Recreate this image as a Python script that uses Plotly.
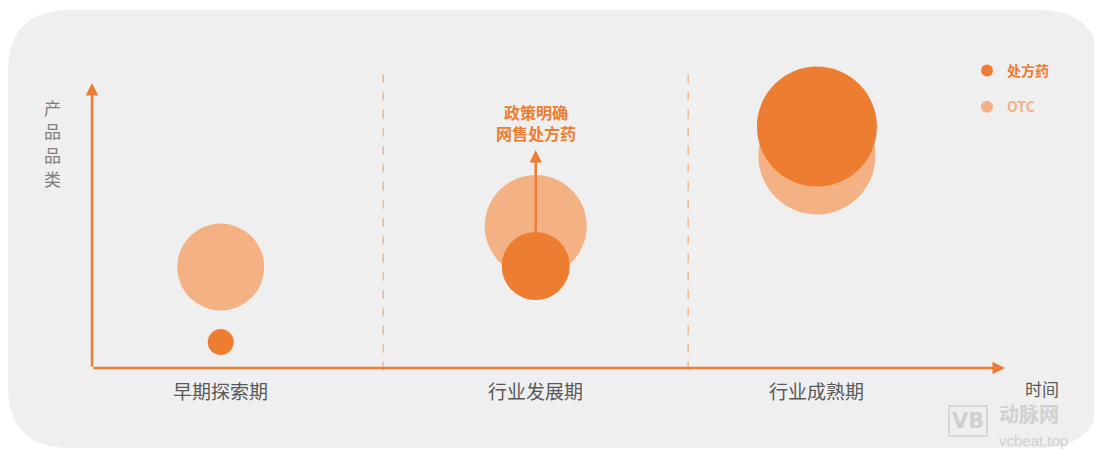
import plotly.graph_objects as go

# ---- data ----
stages = ["早期探索期", "行业发展期", "行业成熟期"]
stage_x = [14.1, 48.6, 79.4]          # time position of each stage
divider_x = [31.9, 65.3]              # boundaries between stages
rx_y = [9.1, 35.8, 84.7]              # 处方药 product-category level
otc_y = [35.4, 49.8, 74.4]            # OTC product-category level
rx_scale = [26, 68, 120]              # 处方药 bubble scale
otc_scale = [87, 102, 117]            # OTC bubble scale
y_label_chars = ["产", "品", "品", "类"]
note_lines = ["政策明确", "网售处方药"]

RX = "#ED7D31"
OTC = "#F4B183"
GRAY = "#595959"
FONT = "Noto Sans CJK SC"
OFF = 8                      # page body margin
W, H = 1102 - OFF, 450 - OFF
X0, Y0 = 92 - OFF, 368 - OFF  # axis origin inside the figure, px
SX, SY = 9.13, 2.85           # px per data unit

fig = go.Figure()

fig.add_trace(go.Scatter(
    x=stage_x, y=otc_y, mode="markers",
    name=f"<b><span style='color:{OTC}'>OTC</span></b>",
    marker=dict(size=otc_scale, sizemode="diameter", sizeref=1, color=OTC, opacity=1, line=dict(width=0)),
    legendgroup="b", legendrank=2, hoverinfo="skip", cliponaxis=False,
))
fig.add_trace(go.Scatter(
    x=stage_x, y=rx_y, mode="markers",
    name=f"<b><span style='color:{RX}'>处方药</span></b>",
    marker=dict(size=rx_scale, sizemode="diameter", sizeref=1, color=RX, opacity=1, line=dict(width=0)),
    legendgroup="a", legendrank=1, hoverinfo="skip", cliponaxis=False,
))

def px(v):  # screen px -> paper fraction (x)
    return (v - OFF) / W

def py(v):  # screen px -> paper fraction (y)
    return 1 - (v - OFF) / H

def rr_path(x0, y0, x1, y1, r):
    return (f"M {px(x0+r)},{py(y0)} L {px(x1-r)},{py(y0)} Q {px(x1)},{py(y0)} {px(x1)},{py(y0+r)} "
            f"L {px(x1)},{py(y1-r)} Q {px(x1)},{py(y1)} {px(x1-r)},{py(y1)} "
            f"L {px(x0+r)},{py(y1)} Q {px(x0)},{py(y1)} {px(x0)},{py(y1-r)} "
            f"L {px(x0)},{py(y0+r)} Q {px(x0)},{py(y0)} {px(x0+r)},{py(y0)} Z")

shapes = [dict(type="path", xref="paper", yref="paper", path=rr_path(8, 10, 1101, 448, 62),
               fillcolor="#EFEFEF", line=dict(width=0), layer="below")]
for dx in divider_x:
    shapes.append(dict(type="line", xref="x", yref="y", x0=dx, x1=dx, y0=-1, y1=103,
                       line=dict(color="#F2B88F", width=1.5, dash="dash"), layer="below"))

annotations = []
# axes with arrowheads
annotations.append(dict(x=100, y=0, ax=0, ay=0, xref="x", yref="y", axref="x", ayref="y",
                        text="", showarrow=True, arrowhead=2, arrowsize=1, arrowwidth=2.5, arrowcolor=RX))
annotations.append(dict(x=0, y=100, ax=0, ay=0, xref="x", yref="y", axref="x", ayref="y",
                        text="", showarrow=True, arrowhead=2, arrowsize=1, arrowwidth=2.5, arrowcolor=RX))
# stage labels
for sx, s in zip(stage_x, stages):
    annotations.append(dict(x=sx, y=-7.9, xref="x", yref="y", text=s, showarrow=False,
                            font=dict(family=FONT, size=19, color=GRAY)))
annotations.append(dict(x=104.0, y=-7.3, xref="x", yref="y", text="时间", showarrow=False,
                        font=dict(family=FONT, size=17, color=GRAY)))
# y axis title (vertical)
for i, ch in enumerate(y_label_chars):
    annotations.append(dict(x=-4.3, y=91.5 - i * 8.3, xref="x", yref="y", text=ch, showarrow=False,
                            font=dict(family=FONT, size=17, color="#7F7F7F")))
# policy note with arrow rising from the 处方药 bubble
annotations.append(dict(x=stage_x[1], y=rx_y[1] + rx_scale[1] / 2 / SY,
                        ax=stage_x[1], ay=86.3, xref="x", yref="y", axref="x", ayref="y",
                        text="<b>" + "<br>".join(note_lines) + "</b>", showarrow=True, arrowside="start",
                        arrowhead=2, startarrowhead=2, arrowsize=1, startarrowsize=1,
                        arrowwidth=2.5, arrowcolor=RX, startstandoff=4,
                        font=dict(family=FONT, size=16, color=RX)))
# watermark
annotations.append(dict(x=px(968), y=py(421), xref="paper", yref="paper", xanchor="center",
                        yanchor="middle", text="<b>VB</b>",
                        showarrow=False, bordercolor="#D8D8D8", borderwidth=2, borderpad=2,
                        font=dict(family="DejaVu Sans", size=21, color="#D0D0D0")))
annotations.append(dict(x=px(997), y=py(429.5), xref="paper", yref="paper", xanchor="left",
                        yanchor="bottom", text="<b>动脉网</b>", showarrow=False,
                        font=dict(family=FONT, size=20, color="#D0D0D0")))
annotations.append(dict(x=px(997), y=py(430), xref="paper", yref="paper", xanchor="left",
                        yanchor="top", text="vcbeat.top", showarrow=False,
                        font=dict(family="Liberation Sans", size=15, color="#D0D0D0")))

fig.update_layout(
    width=W, height=H, margin=dict(l=0, r=0, t=0, b=0, autoexpand=False),
    paper_bgcolor="white", plot_bgcolor="rgba(0,0,0,0)",
    xaxis=dict(range=[-X0 / SX, (W - X0) / SX], visible=False, fixedrange=True),
    yaxis=dict(range=[-(H - Y0) / SY, Y0 / SY], visible=False, fixedrange=True),
    shapes=shapes, annotations=annotations,
    showlegend=True,
    legend=dict(xref="container", yref="container", x=px(967), y=py(55),
                xanchor="left", yanchor="top", bgcolor="rgba(0,0,0,0)",
                font=dict(family=FONT, size=14, color=RX), itemsizing="constant",
                traceorder="grouped", tracegroupgap=15),
)

fig.write_html("out.html")
